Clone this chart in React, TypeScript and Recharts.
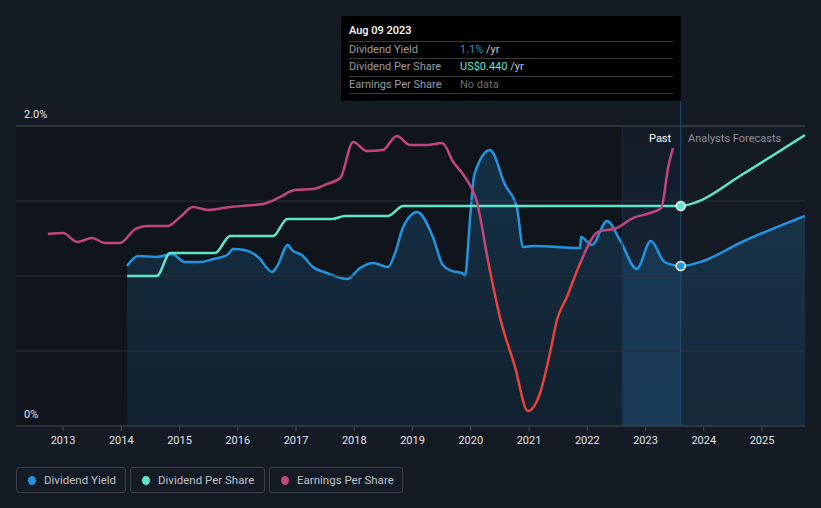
import React from 'react';
import { ComposedChart, Line, Area, XAxis, YAxis, ReferenceArea, ReferenceLine, ReferenceDot } from 'recharts';

const xTicks = [2013, 2014, 2015, 2016, 2017, 2018, 2019, 2020, 2021, 2022, 2023, 2024, 2025];
const X_MIN = 2012.193;
const X_MAX = 2025.738;
const PAST_START = 2022.597;
const NOW = 2023.605;

// Dividend Yield (%)
const dividendYield = [
  { t: 2014.10, v: 1.067 }, { t: 2014.29, v: 1.133 }, { t: 2014.61, v: 1.127 }, { t: 2014.87, v: 1.147 },
  { t: 2015.09, v: 1.093 }, { t: 2015.35, v: 1.093 }, { t: 2015.58, v: 1.113 }, { t: 2015.82, v: 1.14 },
  { t: 2015.92, v: 1.18 }, { t: 2016.12, v: 1.173 }, { t: 2016.35, v: 1.127 }, { t: 2016.59, v: 1.027 },
  { t: 2016.67, v: 1.06 }, { t: 2016.86, v: 1.207 }, { t: 2016.93, v: 1.173 }, { t: 2017.10, v: 1.14 },
  { t: 2017.29, v: 1.06 }, { t: 2017.53, v: 1.02 }, { t: 2017.88, v: 0.98 }, { t: 2018.10, v: 1.053 },
  { t: 2018.32, v: 1.087 }, { t: 2018.58, v: 1.06 }, { t: 2018.70, v: 1.153 }, { t: 2018.84, v: 1.327 },
  { t: 2019.08, v: 1.427 }, { t: 2019.35, v: 1.26 }, { t: 2019.52, v: 1.073 }, { t: 2019.68, v: 1.033 },
  { t: 2019.85, v: 1.02 }, { t: 2019.90, v: 1.0 }, { t: 2019.99, v: 1.393 }, { t: 2020.06, v: 1.673 },
  { t: 2020.33, v: 1.84 }, { t: 2020.59, v: 1.607 }, { t: 2020.79, v: 1.46 }, { t: 2020.90, v: 1.193 },
  { t: 2021.07, v: 1.2 }, { t: 2021.88, v: 1.187 }, { t: 2021.89, v: 1.26 }, { t: 2022.08, v: 1.207 },
  { t: 2022.34, v: 1.367 }, { t: 2022.56, v: 1.24 }, { t: 2022.85, v: 1.047 }, { t: 2023.09, v: 1.233 },
  { t: 2023.33, v: 1.093 }, { t: 2023.605, v: 1.067 }, { t: 2023.99, v: 1.1 }, { t: 2024.62, v: 1.22 },
  { t: 2025.738, v: 1.4 },
];

// Dividend Per Share (scaled to chart)
const dividendPerShare = [
  { t: 2014.10, v: 1.0 }, { t: 2014.61, v: 1.0 }, { t: 2014.84, v: 1.153 }, { t: 2015.61, v: 1.153 },
  { t: 2015.87, v: 1.267 }, { t: 2016.61, v: 1.267 }, { t: 2016.85, v: 1.38 }, { t: 2017.62, v: 1.38 },
  { t: 2017.84, v: 1.4 }, { t: 2018.58, v: 1.4 }, { t: 2018.84, v: 1.467 }, { t: 2023.605, v: 1.467 },
  { t: 2023.88, v: 1.493 }, { t: 2024.62, v: 1.667 }, { t: 2025.738, v: 1.94 },
];

// Earnings Per Share (scaled to chart)
const earningsPerShare = [
  { t: 2012.74, v: 1.28 }, { t: 2013.0, v: 1.287 }, { t: 2013.24, v: 1.227 }, { t: 2013.50, v: 1.253 },
  { t: 2013.72, v: 1.22 }, { t: 2013.98, v: 1.22 }, { t: 2014.24, v: 1.313 }, { t: 2014.44, v: 1.333 },
  { t: 2014.79, v: 1.333 }, { t: 2015.01, v: 1.393 }, { t: 2015.23, v: 1.46 }, { t: 2015.49, v: 1.44 },
  { t: 2015.87, v: 1.46 }, { t: 2016.26, v: 1.473 }, { t: 2016.50, v: 1.487 }, { t: 2016.73, v: 1.527 },
  { t: 2016.98, v: 1.573 }, { t: 2017.29, v: 1.58 }, { t: 2017.53, v: 1.613 }, { t: 2017.76, v: 1.653 },
  { t: 2017.98, v: 1.893 }, { t: 2018.22, v: 1.833 }, { t: 2018.49, v: 1.84 }, { t: 2018.73, v: 1.933 },
  { t: 2018.96, v: 1.873 }, { t: 2019.25, v: 1.873 }, { t: 2019.51, v: 1.887 }, { t: 2019.70, v: 1.76 },
  { t: 2019.90, v: 1.66 }, { t: 2020.11, v: 1.487 }, { t: 2020.30, v: 1.093 }, { t: 2020.50, v: 0.727 },
  { t: 2020.76, v: 0.393 }, { t: 2020.98, v: 0.1 }, { t: 2021.19, v: 0.22 }, { t: 2021.36, v: 0.487 },
  { t: 2021.48, v: 0.707 }, { t: 2021.65, v: 0.86 }, { t: 2021.88, v: 1.087 }, { t: 2022.18, v: 1.293 },
  { t: 2022.51, v: 1.32 }, { t: 2022.79, v: 1.387 }, { t: 2023.08, v: 1.42 }, { t: 2023.27, v: 1.453 },
  { t: 2023.39, v: 1.727 }, { t: 2023.47, v: 1.853 },
];

const legendItems = [
  { label: 'Dividend Yield', color: '#2394df' },
  { label: 'Dividend Per Share', color: '#5fe6c8' },
  { label: 'Earnings Per Share', color: '#c2457f' },
];
const legendBoxWidths = [110, 135, 134];

const tooltipRows = [
  { label: 'Dividend Yield', value: '1.1%', color: '#2394df', unit: ' /yr' },
  { label: 'Dividend Per Share', value: 'US$0.440', color: '#5fe6c8', unit: ' /yr' },
  { label: 'Earnings Per Share', value: 'No data', color: '#6b6e74', unit: '' },
];

const FONT = 'Roboto, "Noto Sans", sans-serif';

export default function App() {
  const yieldAtNow = dividendYield.find((p) => p.t === NOW)!.v;
  const dpsAtNow = dividendPerShare.find((p) => p.t === NOW)!.v;
  return (
    <div style={{ position: 'fixed', left: 0, top: 0, width: 821, height: 508, background: '#151b25', fontFamily: FONT, overflow: 'hidden' }}>
      <svg width={0} height={0} style={{ position: 'absolute' }}>
        <defs>
          <linearGradient id="epsGrad" gradientUnits="userSpaceOnUse" x1={0} y1={0} x2={0} y2={508}>
            <stop offset="0.5157" stopColor="#c2457f" />
            <stop offset="0.5157" stopColor="#e5433b" />
          </linearGradient>
          <linearGradient id="areaGrad" x1="0" y1="0" x2="0" y2="1">
            <stop offset="0" stopColor="#2394df" stopOpacity={0.22} />
            <stop offset="1" stopColor="#2394df" stopOpacity={0.1} />
          </linearGradient>
          <linearGradient id="bandGrad" x1="0" y1="0" x2="0" y2="1">
            <stop offset="0" stopColor="#131b26" />
            <stop offset="1" stopColor="#172f47" />
          </linearGradient>
        </defs>
      </svg>
      <ComposedChart width={821} height={508} margin={{ top: 126, right: 16, left: 16, bottom: 52 }}>
        <XAxis
          dataKey="t"
          type="number"
          domain={[X_MIN, X_MAX]}
          ticks={xTicks}
          allowDataOverflow
          axisLine={{ stroke: '#454b55' }}
          tickLine={{ stroke: '#454b55' }}
          tickSize={5}
          tickMargin={5}
          tick={{ fill: '#e2e4e8', fontSize: 11, fontFamily: FONT }}
          height={30}
        />
        <YAxis hide domain={[0, 2]} type="number" allowDataOverflow />
        <ReferenceArea x1={X_MIN} x2={PAST_START} y1={0} y2={2} fill="#10141b" fillOpacity={1} stroke="none" />
        <ReferenceArea x1={PAST_START} x2={NOW} y1={0} y2={2} fill="url(#bandGrad)" fillOpacity={1} stroke="none" />
        <ReferenceLine x={PAST_START} stroke="#1a2b3c" strokeWidth={1} />
        <ReferenceLine y={0.5} stroke="#2a313b" strokeWidth={1} />
        <ReferenceLine y={1.0} stroke="#2a313b" strokeWidth={1} />
        <ReferenceLine y={1.5} stroke="#2a313b" strokeWidth={1} />
        <ReferenceLine y={2.0} stroke="#4a4f57" strokeWidth={1} />
        <ReferenceLine
          segment={[{ x: NOW, y: 0 }, { x: NOW, y: 2.167 }]}
          stroke="#1f4d77"
          strokeWidth={1}
          ifOverflow="visible"
        />
        <Area
          data={dividendYield}
          dataKey="v"
          type="monotone"
          fill="url(#areaGrad)"
          fillOpacity={1}
          stroke="#2394df"
          strokeWidth={2.5}
          isAnimationActive={false}
          dot={false}
          activeDot={false}
        />
        <Line
          data={dividendPerShare}
          dataKey="v"
          type="monotone"
          stroke="#5fe6c8"
          strokeWidth={2.5}
          dot={false}
          activeDot={false}
          isAnimationActive={false}
        />
        <Line
          data={earningsPerShare}
          dataKey="v"
          type="monotone"
          stroke="url(#epsGrad)"
          strokeWidth={2.5}
          dot={false}
          activeDot={false}
          isAnimationActive={false}
        />
        <ReferenceDot x={NOW} y={dpsAtNow} r={4.5} fill="#5fe6c8" stroke="#ffffff" strokeWidth={1.5} />
        <ReferenceDot x={NOW} y={yieldAtNow} r={4.5} fill="#2394df" stroke="#ffffff" strokeWidth={1.5} />
      </ComposedChart>

      <div style={{ position: 'absolute', left: 24, top: 108, fontSize: 11, color: '#e2e4e8' }}>2.0%</div>
      <div style={{ position: 'absolute', left: 24, top: 408, fontSize: 11, color: '#e2e4e8' }}>0%</div>
      <div style={{ position: 'absolute', left: 649, top: 132, fontSize: 11, color: '#ffffff' }}>Past</div>
      <div style={{ position: 'absolute', left: 688, top: 132, fontSize: 11, color: '#8b8f96' }}>Analysts Forecasts</div>

      <div style={{ position: 'absolute', left: 341, top: 16, width: 340, height: 85, background: '#000000' }}>
        <div style={{ position: 'absolute', left: 8, top: 8, fontSize: 11, color: '#ffffff', fontWeight: 500 }}>Aug 09 2023</div>
        {tooltipRows.map((r, i) => (
          <div key={r.label} style={{ position: 'absolute', left: 8, top: 25 + i * 17.3, width: 324, height: 17, borderTop: '1px solid #3a3a3a', fontSize: 11, lineHeight: '16px' }}>
            <span style={{ position: 'absolute', left: 0, top: 0, color: '#9a9da3' }}>{r.label}</span>
            <span style={{ position: 'absolute', left: 111, top: 0, whiteSpace: 'pre' }}>
              <span style={{ color: r.color }}>{r.value}</span>
              <span style={{ color: '#c8cbd0' }}>{r.unit}</span>
            </span>
          </div>
        ))}
        <div style={{ position: 'absolute', left: 8, top: 77, width: 324, borderTop: '1px solid #3a3a3a' }} />
      </div>

      <div style={{ position: 'absolute', left: 16, top: 467, display: 'flex', gap: 4 }}>
        {legendItems.map((it, i) => (
          <div key={it.label} style={{ width: legendBoxWidths[i], boxSizing: 'border-box', height: 26, border: '1px solid #3b404a', borderRadius: 3, display: 'flex', alignItems: 'center', paddingLeft: 11, fontSize: 11.5, color: '#bfc2c8' }}>
            <span style={{ width: 8, height: 9, borderRadius: '50%', background: it.color, marginRight: 8, display: 'inline-block' }} />
            {it.label}
          </div>
        ))}
      </div>
    </div>
  );
}
